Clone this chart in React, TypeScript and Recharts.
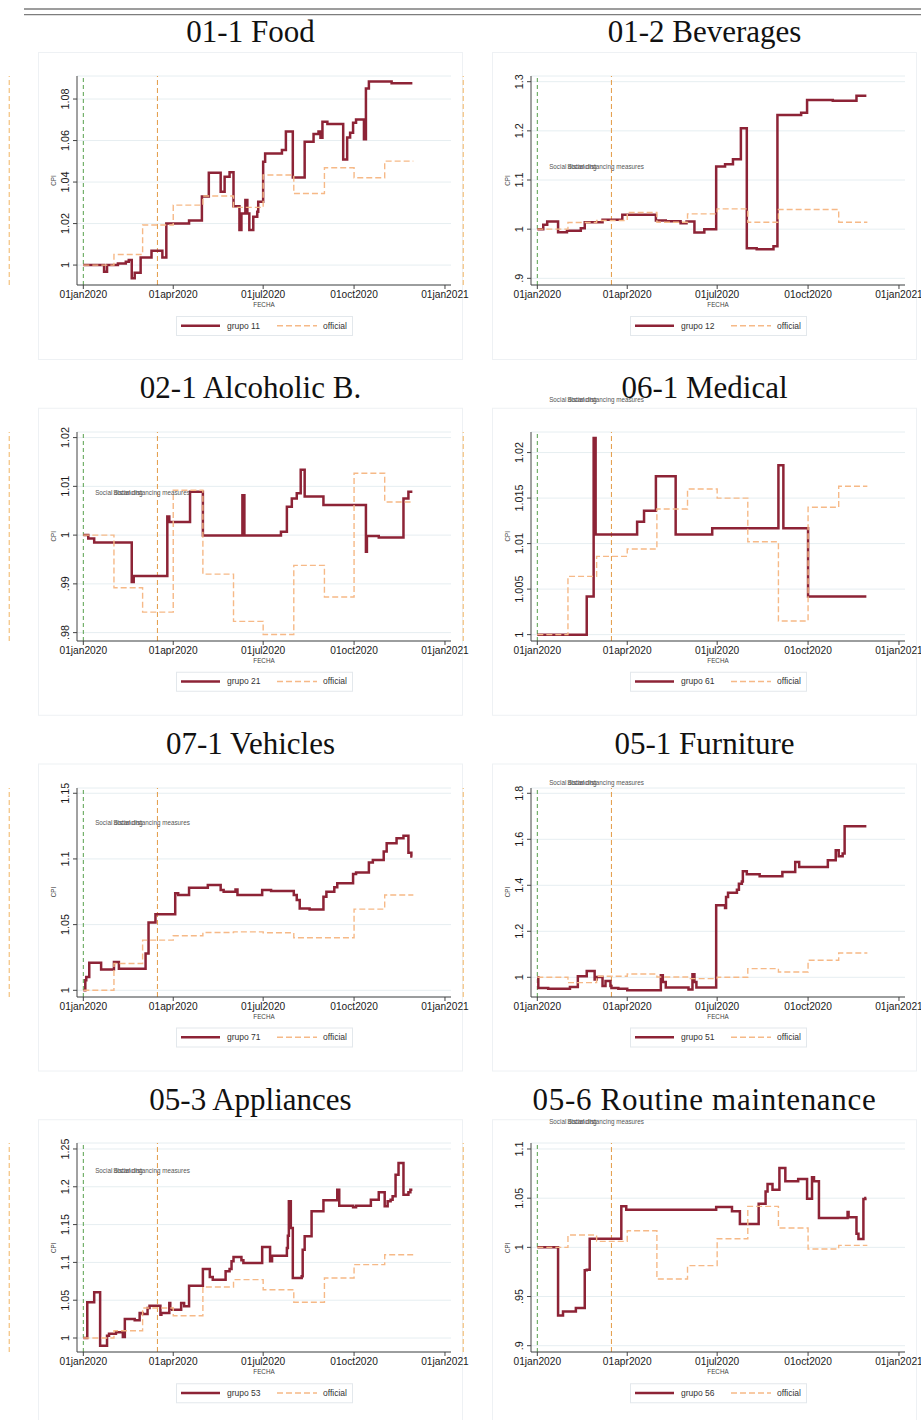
import React from 'react';
import { LineChart, Line, XAxis, YAxis, CartesianGrid, ReferenceLine, ReferenceDot } from 'recharts';

// days since 01jan2020
const monthDays = [0, 31, 60, 91, 121, 152, 182, 213, 244, 274, 305, 334];
const xTicks = [0, 91, 182, 274, 366];
const xTickLabels = ['01jan2020', '01apr2020', '01jul2020', '01oct2020', '01jan2021'];
const startDay = 0;
const measuresDay = 75;
const ghostDay = -75;
const noteDay = 12;

type Pt = [number, number];

const foodGrupo: Pt[] = [[0, 1.0], [21, 0.9968], [24, 1.0], [35, 1.0008], [43, 1.0016], [46, 1.0025], [49, 0.9936], [52, 0.9963], [58, 1.0037], [69, 1.0069], [80, 1.0037], [84, 1.02], [107, 1.0215], [120, 1.033], [127, 1.0445], [139, 1.0353], [143, 1.0426], [148, 1.0447], [152, 1.0284], [158, 1.0169], [160, 1.0249], [164, 1.0313], [166, 1.0249], [168, 1.0169], [172, 1.0233], [176, 1.0257], [177, 1.0305], [182, 1.0498], [184, 1.0538], [201, 1.0554], [205, 1.0643], [212, 1.0422], [224, 1.0594], [233, 1.0631], [238, 1.0643], [240, 1.0614], [242, 1.0691], [247, 1.068], [263, 1.0509], [267, 1.0615], [270, 1.0638], [273, 1.0686], [276, 1.0702], [284, 1.0606], [286, 1.0851], [289, 1.0884], [312, 1.0876], [333, 1.0876]];
const foodOfficial = [1.0, 1.0051, 1.0193, 1.0289, 1.0333, 1.0278, 1.0434, 1.0345, 1.0469, 1.0421, 1.0501];
const foodTicks = [1, 1.02, 1.04, 1.06, 1.08];

const bevGrupo: Pt[] = [[0, 1.0], [6, 1.0088], [10, 1.0156], [21, 0.9939], [30, 0.9966], [44, 1.002], [48, 1.0142], [66, 1.019], [86, 1.0291], [120, 1.0176], [130, 1.0162], [145, 1.0122], [151, 1.0156], [159, 0.9932], [169, 1.0], [181, 1.1273], [190, 1.132], [198, 1.1422], [206, 1.2051], [212, 0.9614], [222, 0.959], [239, 0.965], [243, 1.2322], [267, 1.237], [273, 1.2627], [299, 1.2613], [323, 1.2715], [333, 1.2715]];
const bevOfficial = [1.0, 1.0135, 1.0176, 1.0339, 1.0142, 1.0311, 1.0413, 1.0142, 1.04, 1.04, 1.0142];
const bevTicks = [0.9, 1, 1.1, 1.2, 1.3];

const alcGrupo: Pt[] = [[0, 1.0], [5, 0.9993], [11, 0.9985], [49, 0.9904], [51, 0.9916], [85, 1.0038], [87, 1.0027], [108, 1.0089], [121, 0.9999], [161, 1.0082], [163, 0.9999], [200, 1.0007], [206, 1.0058], [211, 1.0075], [216, 1.0086], [220, 1.0134], [224, 1.0079], [243, 1.0062], [286, 0.9966], [287, 0.9998], [299, 0.9995], [324, 1.0075], [329, 1.0089], [333, 1.0089]];
const alcOfficial = [1.0, 0.9892, 0.9842, 1.0092, 0.992, 0.9823, 0.9796, 0.9938, 0.9873, 1.0127, 1.0068];
const alcTicks = [0.98, 0.99, 1, 1.01, 1.02];

const medGrupo: Pt[] = [[0, 1.0], [50, 1.0042], [57, 1.0216], [59, 1.011], [101, 1.0124], [108, 1.0136], [120, 1.0174], [140, 1.011], [177, 1.0117], [244, 1.0186], [249, 1.0117], [274, 1.0042], [333, 1.0042]];
const medOfficial = [1.0, 1.0064, 1.0086, 1.0094, 1.0138, 1.016, 1.015, 1.0102, 1.0015, 1.014, 1.0163];
const medTicks = [1, 1.005, 1.01, 1.015, 1.02];

const vehGrupo: Pt[] = [[0, 1.0], [2, 1.0076], [3, 1.0102], [6, 1.0209], [18, 1.0158], [31, 1.0216], [36, 1.0165], [63, 1.028], [66, 1.0517], [73, 1.0578], [93, 1.0738], [96, 1.0725], [107, 1.0781], [126, 1.0802], [139, 1.0763], [142, 1.0751], [154, 1.0768], [156, 1.0725], [181, 1.0763], [190, 1.0756], [213, 1.0725], [216, 1.0687], [219, 1.0623], [229, 1.0616], [243, 1.0712], [246, 1.0751], [254, 1.0784], [257, 1.0814], [273, 1.0886], [276, 1.0896], [289, 1.0972], [293, 1.0992], [304, 1.1056], [307, 1.112], [317, 1.1158], [324, 1.1176], [329, 1.1048], [332, 1.1018], [333, 1.1018]];
const vehOfficial = [1.0, 1.0204, 1.0382, 1.0415, 1.044, 1.0445, 1.0438, 1.04, 1.04, 1.0618, 1.0725];
const vehTicks = [1, 1.05, 1.1, 1.15];

const furnGrupo: Pt[] = [[0, 1.0], [1, 0.9536], [11, 0.9507], [33, 0.958], [41, 1.0043], [50, 1.0275], [58, 0.9899], [60, 1.0014], [66, 0.9623], [69, 0.984], [74, 0.9623], [75, 0.9536], [82, 0.9507], [91, 0.9435], [125, 1.0087], [127, 0.9797], [130, 0.9551], [153, 0.9464], [157, 1.013], [159, 0.9797], [161, 0.9551], [181, 1.313], [190, 1.3014], [191, 1.3493], [193, 1.368], [202, 1.381], [204, 1.407], [207, 1.417], [208, 1.461], [212, 1.448], [225, 1.439], [248, 1.458], [261, 1.501], [265, 1.48], [294, 1.509], [302, 1.552], [305, 1.526], [309, 1.538], [311, 1.657], [333, 1.657]];
const furnOfficial = [1.0, 0.9768, 1.0043, 1.0145, 1.0014, 0.9942, 1.0, 1.0377, 1.0232, 1.0739, 1.1058];
const furnTicks = [1, 1.2, 1.4, 1.6, 1.8];

const appGrupo: Pt[] = [[0, 1.0], [4, 1.0472], [11, 1.0604], [17, 0.9899], [24, 1.0031], [26, 1.0057], [33, 1.0075], [40, 1.0013], [42, 1.0251], [52, 1.0234], [57, 1.0331], [60, 1.0317], [65, 1.0397], [67, 1.0428], [78, 1.0309], [79, 1.0331], [87, 1.0463], [88, 1.0384], [90, 1.0375], [99, 1.0463], [102, 1.0419], [107, 1.0692], [121, 1.0913], [128, 1.0807], [131, 1.0772], [144, 1.0882], [148, 1.0913], [150, 1.1014], [152, 1.1071], [160, 1.1027], [162, 1.0992], [181, 1.1204], [189, 1.1014], [191, 1.1089], [206, 1.119], [207, 1.1354], [208, 1.1808], [210, 1.1455], [212, 1.0794], [221, 1.0816], [222, 1.1168], [224, 1.1345], [231, 1.1675], [243, 1.1821], [257, 1.1962], [259, 1.175], [273, 1.1728], [276, 1.175], [291, 1.183], [299, 1.1927], [305, 1.1742], [308, 1.1808], [311, 1.183], [313, 1.1874], [316, 1.216], [319, 1.2315], [324, 1.1896], [329, 1.1927], [331, 1.1962], [333, 1.1962]];
const appOfficial = [1.0, 1.0097, 1.0397, 1.0295, 1.0675, 1.0772, 1.0639, 1.0472, 1.0794, 1.097, 1.1102];
const appTicks = [1, 1.05, 1.1, 1.15, 1.2, 1.25];

const maintGrupo: Pt[] = [[0, 1.0], [21, 0.9308], [26, 0.9349], [39, 0.9383], [48, 0.9766], [50, 0.9773], [53, 1.0088], [85, 1.0417], [90, 1.0383], [181, 1.041], [197, 1.0366], [205, 1.0237], [224, 1.0444], [231, 1.0569], [233, 1.0644], [238, 1.0586], [245, 1.0807], [251, 1.0671], [264, 1.0695], [273, 1.0495], [278, 1.0712], [280, 1.0671], [285, 1.0298], [314, 1.0359], [315, 1.0305], [323, 1.0139], [325, 1.0085], [330, 1.0492], [332, 1.0502], [333, 1.0502]];
const maintOfficial = [1.0, 1.0125, 1.0061, 1.0169, 0.9678, 0.9814, 1.0088, 1.0417, 1.0197, 0.9983, 1.002];
const maintTicks = [0.9, 0.95, 1, 1.05, 1.1];

const panels = [
  { title: '01-1 Food', label: 'grupo 11', grupo: foodGrupo, official: foodOfficial, ticks: foodTicks, domain: [0.9904, 1.0911], noteY: null, col: 0, row: 0 },
  { title: '01-2 Beverages', label: 'grupo 12', grupo: bevGrupo, official: bevOfficial, ticks: bevTicks, domain: [0.8864, 1.3116], noteY: 1.128, col: 1, row: 0 },
  { title: '02-1 Alcoholic B.', label: 'grupo 21', grupo: alcGrupo, official: alcOfficial, ticks: alcTicks, domain: [0.97828, 1.02115], noteY: 1.0087, col: 0, row: 1 },
  { title: '06-1 Medical', label: 'grupo 61', grupo: medGrupo, official: medOfficial, ticks: medTicks, domain: [0.9993, 1.02226], noteY: 1.0258, col: 1, row: 1 },
  { title: '07-1 Vehicles', label: 'grupo 71', grupo: vehGrupo, official: vehOfficial, ticks: vehTicks, domain: [0.9949, 1.154], noteY: 1.128, col: 0, row: 2 },
  { title: '05-1 Furniture', label: 'grupo 51', grupo: furnGrupo, official: furnOfficial, ticks: furnTicks, domain: [0.9143, 1.823], noteY: 1.845, col: 1, row: 2 },
  { title: '05-3 Appliances', label: 'grupo 53', grupo: appGrupo, official: appOfficial, ticks: appTicks, domain: [0.9815, 1.2579], noteY: 1.2217, col: 0, row: 3 },
  { title: '05-6 Routine maintenance', label: 'grupo 56', grupo: maintGrupo, official: maintOfficial, ticks: maintTicks, domain: [0.8936, 1.1061], noteY: 1.128, col: 1, row: 3 },
];

const ROW = 355.75;
const COLX = [0, 454];
const SANS = '"Liberation Sans", Arial, Helvetica, sans-serif';
const GRUPO = '#8d2336';
const OFFICIAL = '#f6b987';
const GREEN = '#58a04c';
const ORANGE = '#e39a45';
const GHOST = '#f1b463';
const AXIS = '#444';

const fmt = (v: number) => String(v).replace(/^0\./, '.');

const XTick = (props: any) => {
  const { x, y, payload } = props;
  const i = xTicks.indexOf(payload.value);
  return (
    <text x={x} y={y} dy={7.3} textAnchor="middle" fontSize={10.2} fill="#1a1a1a" fontFamily={SANS}>
      {xTickLabels[i]}
    </text>
  );
};

const YTick = (props: any) => {
  const { x, y, payload } = props;
  return (
    <text transform={`translate(${x},${y}) rotate(-90)`} textAnchor="middle" fontSize={10.8} fill="#1a1a1a" fontFamily={SANS}>
      {fmt(payload.value)}
    </text>
  );
};

// the reference shows two labels printed on top of each other
const Note = (props: any) => {
  const { cx, cy } = props;
  if (cx == null || cy == null) return null;
  const st = { fontSize: 6.3, fill: '#555', fontFamily: SANS, dominantBaseline: 'central' as const };
  return (
    <g>
      <text x={cx} y={cy} {...st}>Social distancing</text>
      <text x={cx + 18} y={cy} {...st}>Social distancing measures</text>
    </g>
  );
};

function PanelChart({ p }: { p: any }) {
  const top = p.row * ROW + 36;
  const left = COLX[p.col];
  const grupoData = p.grupo.map(([day, v]: Pt) => ({ day, v }));
  const offData = monthDays.map((day, i) => ({ day, v: p.official[Math.min(i, p.official.length - 1)] }));
  return (
    <div style={{ position: 'absolute', left, top }}>
      <LineChart width={470} height={310} margin={{ top: 40, right: 19, bottom: 31, left: 47 }}>
        <CartesianGrid vertical={false} stroke="#e6eef1" />
        <XAxis
          type="number"
          dataKey="day"
          domain={[-6.4, 372.1]}
          allowDataOverflow
          ticks={xTicks}
          interval={0}
          height={30}
          tick={<XTick />}
          tickSize={4}
          tickMargin={2}
          axisLine={{ stroke: AXIS }}
          tickLine={{ stroke: AXIS }}
        />
        <YAxis
          type="number"
          domain={p.domain}
          allowDataOverflow
          ticks={p.ticks}
          interval={0}
          width={30}
          tick={<YTick />}
          tickSize={4}
          tickMargin={4.5}
          axisLine={{ stroke: AXIS }}
          tickLine={{ stroke: AXIS }}
        />
        <ReferenceLine x={startDay} stroke={GREEN} strokeDasharray="4 3" strokeWidth={1} />
        <ReferenceLine x={measuresDay} stroke={ORANGE} strokeDasharray="5 3" strokeWidth={1} />
        <ReferenceLine x={ghostDay} stroke={GHOST} strokeDasharray="5 3" strokeWidth={1} ifOverflow="visible" />
        <Line data={grupoData} dataKey="v" type="stepAfter" stroke={GRUPO} strokeWidth={2.5} dot={false} activeDot={false} isAnimationActive={false} />
        <Line data={offData} dataKey="v" type="stepAfter" stroke={OFFICIAL} strokeWidth={1.4} strokeDasharray="6 3" dot={false} activeDot={false} isAnimationActive={false} />
        {p.noteY != null && (
          <ReferenceDot x={noteDay} y={p.noteY} r={0} ifOverflow="visible" shape={<Note />} />
        )}
      </LineChart>
    </div>
  );
}

function Decor() {
  return (
    <svg width={921} height={1420} style={{ position: 'absolute', left: 0, top: 0 }}>
      <line x1={24} x2={921} y1={9} y2={9} stroke="#7d7d7d" strokeWidth={1.3} />
      <line x1={24} x2={921} y1={14.7} y2={14.7} stroke="#7d7d7d" strokeWidth={1.3} />
      {panels.map((p) => {
        const top = p.row * ROW;
        const left = COLX[p.col];
        return (
          <g key={p.title}>
            <rect x={left + 38.5} y={top + 52.5} width={424} height={307} fill="none" stroke="#eef1f4" />
            <text x={left + 250.5} y={top + 42.3} textAnchor="middle" fontSize={31} fill="#111" fontFamily='"Liberation Serif", "Times New Roman", serif' letterSpacing={p.title.length > 20 ? 0.7 : 0}>
              {p.title}
            </text>
            <text transform={`translate(${left + 53.7},${top + 180.5}) rotate(-90)`} textAnchor="middle" dominantBaseline="central" fontSize={6.3} fill="#444" fontFamily={SANS}>CPI</text>
            <text x={left + 264} y={top + 307.2} textAnchor="middle" fontSize={6.3} fill="#444" fontFamily={SANS}>FECHA</text>
            <g transform={`translate(${left + 176},${top + 316})`}>
              <rect x={0.5} y={0.5} width={176} height={19} fill="#fff" stroke="#e3e8ec" />
              <line x1={5} x2={44} y1={9.7} y2={9.7} stroke={GRUPO} strokeWidth={2.6} />
              <text x={51} y={12.7} fontSize={8.5} fill="#333" fontFamily={SANS}>{p.label}</text>
              <line x1={101} x2={141} y1={9.7} y2={9.7} stroke={OFFICIAL} strokeWidth={1.4} strokeDasharray="6 3" />
              <text x={147} y={12.7} fontSize={8.5} fill="#333" fontFamily={SANS}>official</text>
            </g>
          </g>
        );
      })}
    </svg>
  );
}

export default function App() {
  return (
    <div style={{ position: 'absolute', left: 0, top: 0, width: 921, height: 1420, overflow: 'hidden', background: '#fff' }}>
      <Decor />
      {panels.map((p) => (
        <PanelChart key={p.title} p={p} />
      ))}
    </div>
  );
}
